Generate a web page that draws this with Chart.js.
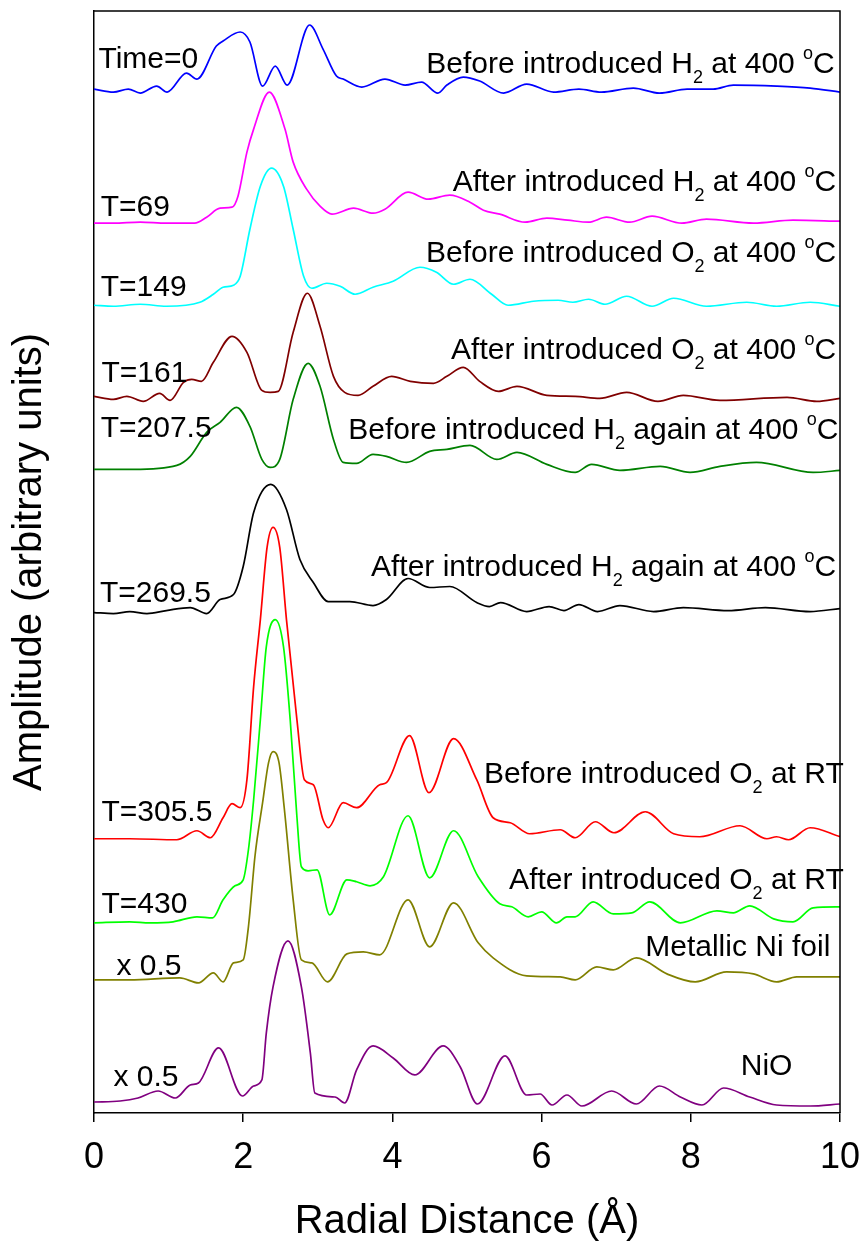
<!DOCTYPE html>
<html>
<head>
<meta charset="utf-8">
<script src="https://cdn.jsdelivr.net/npm/chart.js@4.4.0/dist/chart.umd.min.js"></script>
<style>
  html, body { margin: 0; padding: 0; background: #fff; }
  canvas { display: block; }
</style>
</head>
<body>
<canvas id="chart" width="866" height="1249"></canvas>
<script>
// [radial distance (A), amplitude (arbitrary, already offset)]
const time0 = [[0,1023],[0.26,1020],[0.46,1023],[0.62,1019],[0.84,1026],[0.98,1020],[1.24,1039],[1.38,1033],[1.64,1066],[1.73,1071],[1.96,1080],[2.09,1070],[2.26,1026],[2.43,1046],[2.59,1027],[2.89,1087],[3.07,1063],[3.25,1036],[3.34,1033],[3.59,1025],[3.90,1033],[4.17,1027],[4.39,1030],[4.61,1019],[4.73,1027],[4.95,1035],[5.17,1031],[5.49,1019],[5.80,1028],[6.16,1020],[6.50,1023],[6.80,1020],[7.23,1024],[7.58,1019],[7.95,1023],[8.30,1023],[8.57,1027],[9.15,1026],[9.60,1024],[10,1020]];
const t69 = [[0,889],[0.26,889],[0.62,890],[0.97,889],[1.35,889],[1.51,895],[1.69,904],[1.85,905],[1.93,916],[2.05,960],[2.14,983],[2.35,1020],[2.56,983],[2.67,950],[2.85,923],[3.03,906],[3.19,898],[3.48,904],[3.74,899],[3.90,903],[4.21,920],[4.48,913],[4.77,917],[5.04,910],[5.22,902],[5.44,898],[5.78,890],[6.07,894],[6.35,892],[6.63,890],[6.87,895],[7.18,890],[7.48,896],[7.88,889],[8.21,893],[8.84,889],[9.37,892],[10,891]];
const t149 = [[0,807],[0.26,806],[0.62,808],[0.97,806],[1.42,810],[1.60,818],[1.73,825],[1.87,827],[1.96,836],[2.09,883],[2.23,926],[2.38,944],[2.54,926],[2.67,883],[2.81,836],[2.92,824],[3.12,829],[3.30,826],[3.50,818],[3.74,825],[4.01,831],[4.37,845],[4.59,840],[4.82,828],[5.04,833],[5.33,818],[5.55,807],[5.89,811],[6.22,812],[6.42,810],[6.63,813],[6.85,808],[7.14,816],[7.48,806],[7.77,814],[8.21,806],[8.75,810],[9.15,806],[9.60,810],[10,806]];
const t161 = [[0,716],[0.26,713],[0.44,716],[0.66,711],[0.88,719],[1.02,712],[1.20,730],[1.31,733],[1.44,731],[1.60,750],[1.85,776],[2.05,760],[2.25,722],[2.36,720],[2.47,721],[2.67,780],[2.86,819],[3.03,786],[3.21,736],[3.36,720],[3.54,717],[3.74,726],[3.99,736],[4.24,731],[4.55,729],[4.73,736],[4.95,745],[5.17,731],[5.42,721],[5.67,726],[6.07,717],[6.45,716],[6.78,714],[7.14,720],[7.56,711],[7.90,717],[8.39,712],[9.29,715],[9.69,711],[10,714]];
const t207 = [[0,643],[0.53,643],[1.11,647],[1.29,656],[1.51,680],[1.69,690],[1.91,705],[2.09,686],[2.25,653],[2.36,645],[2.49,653],[2.67,713],[2.87,749],[3.03,726],[3.21,673],[3.34,650],[3.52,649],[3.74,658],[3.92,656],[4.19,650],[4.50,661],[4.73,663],[5.04,667],[5.40,653],[5.67,660],[6.07,648],[6.45,640],[6.67,648],[7.05,642],[7.59,646],[7.99,640],[8.39,646],[8.88,650],[9.64,640],[10,642]];
const t269 = [[0,500],[0.26,499],[0.48,501],[0.71,499],[0.97,502],[1.29,505],[1.51,499],[1.69,513],[1.87,518],[2.00,546],[2.14,600],[2.37,628],[2.58,603],[2.76,553],[2.94,530],[3.14,511],[3.43,511],[3.74,507],[3.92,513],[4.21,534],[4.50,525],[4.77,526],[5.13,510],[5.30,506],[5.45,510],[5.80,501],[6.10,506],[6.30,502],[6.50,508],[6.75,501],[7.05,507],[7.50,501],[7.90,505],[8.50,502],[9.00,505],[9.60,501],[10,504]];
const t305 = [[0,274],[0.48,274],[1.11,273],[1.38,282],[1.56,275],[1.73,295],[1.85,309],[1.96,305],[2.05,333],[2.14,426],[2.23,493],[2.32,565],[2.40,585],[2.49,565],[2.58,493],[2.72,393],[2.82,333],[2.94,328],[3.07,293],[3.14,285],[3.34,310],[3.52,305],[3.83,328],[3.92,330],[4.23,377],[4.49,320],[4.82,374],[5.13,333],[5.35,295],[5.58,290],[5.84,279],[6.25,283],[6.45,275],[6.72,291],[6.97,280],[7.39,301],[7.77,279],[8.12,276],[8.66,287],[9.02,274],[9.15,276],[9.31,273],[9.60,285],[10,276]];
const t430 = [[0,190],[0.48,191],[0.75,190],[1.06,191],[1.38,196],[1.59,195],[1.73,213],[1.89,227],[2.00,233],[2.07,263],[2.14,313],[2.23,393],[2.31,466],[2.43,493],[2.54,466],[2.63,393],[2.72,296],[2.78,246],[2.87,242],[2.99,243],[3.16,198],[3.39,233],[3.52,231],[3.70,227],[3.88,236],[4.21,297],[4.50,235],[4.82,282],[5.15,236],[5.44,209],[5.60,206],[5.82,196],[6.00,201],[6.20,190],[6.34,196],[6.45,196],[6.69,211],[6.96,199],[7.21,200],[7.45,211],[7.86,190],[8.35,202],[8.57,200],[8.79,207],[9.11,194],[9.37,191],[9.64,205],[10,206]];
const niFoil = [[0,133],[0.48,133],[1.15,135],[1.40,130],[1.60,140],[1.73,131],[1.87,150],[2.00,153],[2.07,186],[2.16,258],[2.26,310],[2.34,350],[2.40,361],[2.48,350],[2.55,305],[2.67,213],[2.78,153],[2.92,150],[3.13,131],[3.39,159],[3.61,161],[3.83,158],[4.21,213],[4.50,166],[4.82,210],[5.15,170],[5.35,155],[5.80,137],[6.25,136],[6.45,133],[6.74,146],[6.96,143],[7.27,155],[7.68,139],[8.06,131],[8.48,141],[8.84,139],[9.15,131],[9.42,136],[10,136]];
const nio = [[0,11],[0.35,12],[0.59,15],[0.86,22],[1.09,15],[1.29,28],[1.40,30],[1.67,65],[1.99,17],[2.14,27],[2.25,33],[2.31,80],[2.40,126],[2.60,172],[2.78,126],[2.90,60],[2.96,20],[3.23,16],[3.36,10],[3.52,43],[3.74,67],[4.01,55],[4.30,38],[4.68,67],[4.91,46],[5.14,9],[5.51,57],[5.80,18],[5.98,19],[6.14,8],[6.34,18],[6.54,7],[6.94,22],[7.27,9],[7.58,27],[7.86,16],[8.15,8],[8.44,25],[8.79,16],[9.15,8],[9.60,7],[10,9]];

const xTicks = [0, 2, 4, 6, 8, 10];

const FONT = "'Liberation Sans', Arial, sans-serif";

const series = [
    { data: time0, color: '#0000ff' },
    { data: t69, color: '#ff00ff' },
    { data: t149, color: '#00ffff' },
    { data: t161, color: '#800000' },
    { data: t207, color: '#008000' },
    { data: t269, color: '#000000' },
    { data: t305, color: '#ff0000' },
    { data: t430, color: '#00ff00' },
    { data: niFoil, color: '#808000' },
    { data: nio, color: '#800080' },
];

// text notes placed in data coordinates (x in A, y = baseline amplitude)
const notes = [
    { text: 'Time=0', x: 0.06, y: 1044, align: 'left' },
    { text: 'T=69', x: 0.09, y: 896, align: 'left' },
    { text: 'T=149', x: 0.09, y: 816, align: 'left' },
    { text: 'T=161', x: 0.10, y: 730, align: 'left' },
    { text: 'T=207.5', x: 0.09, y: 675, align: 'left' },
    { text: 'T=269.5', x: 0.08, y: 511, align: 'left' },
    { text: 'T=305.5', x: 0.10, y: 292, align: 'left' },
    { text: 'T=430', x: 0.10, y: 200, align: 'left' },
    { text: 'x 0.5', x: 0.30, y: 138, align: 'left' },
    { text: 'x 0.5', x: 0.26, y: 27, align: 'left' },
    { text: 'Before introduced H_{2} at 400 ^{o}C', x: 9.93, y: 1039, align: 'right' },
    { text: 'After introduced H_{2} at 400 ^{o}C', x: 9.95, y: 921, align: 'right' },
    { text: 'Before introduced O_{2} at 400 ^{o}C', x: 9.95, y: 850, align: 'right' },
    { text: 'After introduced O_{2} at 400 ^{o}C', x: 9.95, y: 753, align: 'right' },
    { text: 'Before introduced H_{2} again at 400 ^{o}C', x: 9.98, y: 673, align: 'right' },
    { text: 'After introduced H_{2} again at 400 ^{o}C', x: 9.95, y: 537, align: 'right' },
    { text: 'Before introduced O_{2} at RT', x: 10.05, y: 330, align: 'right' },
    { text: 'After introduced O_{2} at RT', x: 10.05, y: 224, align: 'right' },
    { text: 'Metallic Ni foil', x: 9.87, y: 157, align: 'right' },
    { text: 'NiO', x: 8.67, y: 38, align: 'left' },
];

function parseRich(str) {
    return str.split(/(_\{[^}]*\}|\^\{[^}]*\})/).filter(s => s.length).map(s => {
        if (s[0] === '_') return { t: s.slice(2, -1), f: '18px ' + FONT, dy: 10 };
        if (s[0] === '^') return { t: s.slice(2, -1), f: '18px ' + FONT, dy: -14 };
        return { t: s, f: '30px ' + FONT, dy: 0 };
    });
}

const notesPlugin = {
    id: 'notes',
    afterDraw(chart) {
        const ctx = chart.ctx;
        const xs = chart.scales.x, ys = chart.scales.y;
        const area = chart.chartArea;
        ctx.save();
        // frame top and right
        ctx.strokeStyle = '#000';
        ctx.lineWidth = 1.5;
        ctx.beginPath();
        ctx.moveTo(area.left, area.top);
        ctx.lineTo(area.right, area.top);
        ctx.lineTo(area.right, area.bottom);
        ctx.stroke();

        ctx.fillStyle = '#000';
        ctx.textBaseline = 'alphabetic';
        ctx.textAlign = 'left';
        notes.forEach(n => {
            const parts = parseRich(n.text);
            let w = 0;
            parts.forEach(p => { ctx.font = p.f; w += ctx.measureText(p.t).width; });
            let cx = xs.getPixelForValue(n.x);
            const cy = ys.getPixelForValue(n.y);
            if (n.align === 'right') cx -= w;
            parts.forEach(p => {
                ctx.font = p.f;
                ctx.fillText(p.t, cx, cy + p.dy);
                cx += ctx.measureText(p.t).width;
            });
        });
        ctx.restore();
    }
};

const ctx = document.getElementById('chart').getContext('2d');

new Chart(ctx, {
    type: 'line',
    data: {
        datasets: series.map(s => ({
            data: s.data.map(p => ({ x: p[0], y: p[1] })),
            borderColor: s.color,
            borderWidth: 1.7,
            pointRadius: 0,
            fill: false,
            cubicInterpolationMode: 'monotone'
        }))
    },
    options: {
        responsive: false,
        animation: false,
        devicePixelRatio: 1,
        layout: { padding: { top: 11, right: 26, left: 0, bottom: 0 } },
        plugins: {
            legend: { display: false },
            tooltip: { enabled: false }
        },
        scales: {
            x: {
                type: 'linear',
                min: 0,
                max: 10,
                afterBuildTicks: (scale) => { scale.ticks = xTicks.map(v => ({ value: v })); },
                ticks: {
                    color: '#000',
                    font: { family: FONT, size: 36 },
                    padding: 14,
                    maxRotation: 0
                },
                grid: {
                    drawOnChartArea: false,
                    drawTicks: true,
                    tickLength: 9,
                    color: '#000',
                    lineWidth: 1.5
                },
                border: { color: '#000', width: 1.5 },
                title: {
                    display: true,
                    text: 'Radial Distance (Å)',
                    color: '#000',
                    font: { family: FONT, size: 40 },
                    padding: { top: 0, bottom: 3 }
                },
                afterFit: (scale) => {
                    scale.height = 136;
                    scale.paddingLeft = 0;
                    scale.paddingRight = 0;
                }
            },
            y: {
                min: 0,
                max: 1101,
                ticks: { display: false },
                grid: { display: false },
                border: { color: '#000', width: 1.5 },
                title: {
                    display: true,
                    text: 'Amplitude (arbitrary units)',
                    color: '#000',
                    font: { family: FONT, size: 40 },
                    padding: { top: 6, bottom: 0 }
                },
                afterFit: (scale) => { scale.width = 94; }
            }
        }
    },
    plugins: [notesPlugin]
});
</script>
</body>
</html>
